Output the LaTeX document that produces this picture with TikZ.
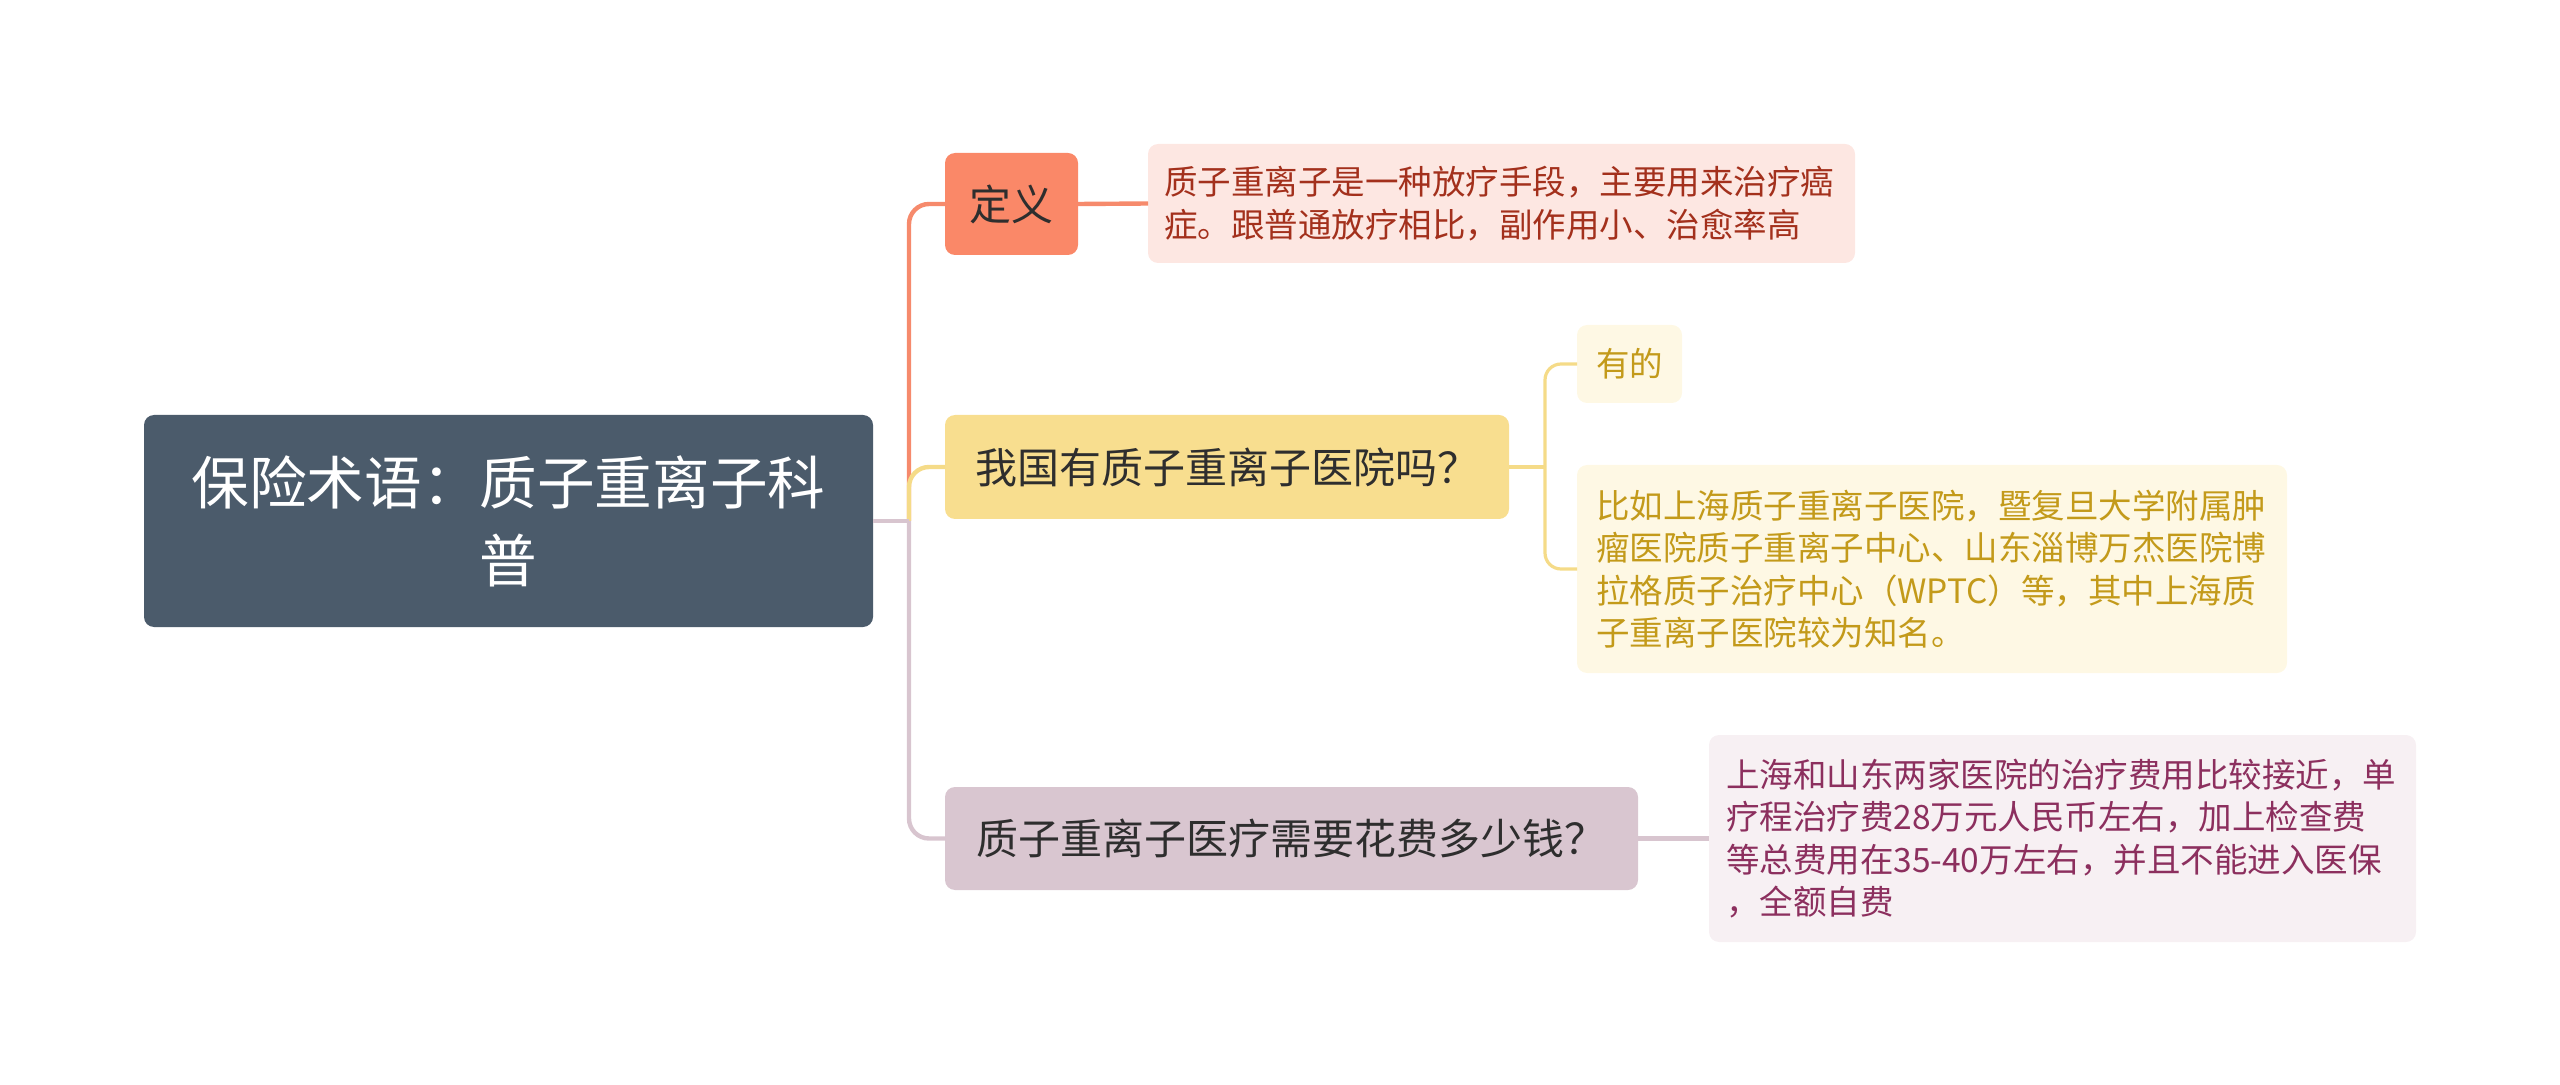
\documentclass[tikz,border=0pt]{standalone}
\usepackage{fontspec}
\setmainfont{Noto Sans CJK SC}
\definecolor{rootfill}{HTML}{4B5B6B}
\definecolor{orfill}{HTML}{FA8868}
\definecolor{orline}{HTML}{F68A6C}
\definecolor{orleaf}{HTML}{FDE7E2}
\definecolor{ortext}{HTML}{A3301C}
\definecolor{yefill}{HTML}{F8DE8F}
\definecolor{yeline}{HTML}{F5DB88}
\definecolor{yeleaf}{HTML}{FEF8E4}
\definecolor{yetext}{HTML}{C39A1A}
\definecolor{mafill}{HTML}{D9C6D0}
\definecolor{maline}{HTML}{D8C5CF}
\definecolor{maleaf}{HTML}{F7F0F3}
\definecolor{matext}{HTML}{8C2F5E}
\definecolor{maintext}{HTML}{2E2E2E}
\begin{document}
\begin{tikzpicture}[x=0.5pt,y=-0.5pt,
  box/.style={rounded corners=5pt, inner ysep=0pt, anchor=center, outer sep=0pt},
  mainbox/.style={box, font=\fontsize{21}{26}\selectfont, text=maintext, align=center},
  leafbox/.style={box, font=\fontsize{16.75}{21.25}\selectfont, align=left},
  conn/.style={line width=2.2pt, rounded corners=10pt},
  thin/.style={line width=1.6pt, rounded corners=8pt}]
\useasboundingbox (0,0) rectangle (2560,1085);
% root
\node[box, fill=rootfill, text=white, font=\fontsize{28.8}{39}\selectfont, align=center,
  minimum width=364.5pt, minimum height=106pt] (root) at (508.5,521)
  {保险术语：质子重离子科\\普};
% first level
\node[mainbox, fill=orfill, minimum width=66.5pt, minimum height=51pt] (def) at (1011.5,204) {定义};
\node[mainbox, fill=yefill, minimum width=282pt, minimum height=52pt] (q1) at (1227,467) {我国有质子重离子医院吗？};
\node[mainbox, fill=mafill, minimum width=346.5pt, minimum height=51.5pt] (q2) at (1291.5,838.5) {质子重离子医疗需要花费多少钱？};
% leaves
\node[leafbox, fill=orleaf, text=ortext, inner xsep=8pt, text width=337.5pt, minimum height=59.5pt] (defleaf) at (1501.5,203.5)
  {质子重离子是一种放疗手段，主要用来治疗癌\\症。跟普通放疗相比，副作用小、治愈率高};
\node[leafbox, fill=yeleaf, text=yetext, align=center, inner xsep=0pt, minimum width=52.5pt, minimum height=39pt] (yes) at (1629.5,364) {有的};
\node[leafbox, fill=yeleaf, text=yetext, inner xsep=9.5pt, text width=336pt, minimum height=104pt] (ex) at (1932,569)
  {比如上海质子重离子医院，暨复旦大学附属肿\\瘤医院质子重离子中心、山东淄博万杰医院博\\拉格质子治疗中心（WPTC）等，其中上海质\\子重离子医院较为知名。};
\node[leafbox, fill=maleaf, text=matext, inner xsep=8.5pt, text width=336.5pt, minimum height=103.5pt] (cost) at (2062.5,838.5)
  {上海和山东两家医院的治疗费用比较接近，单\\疗程治疗费28万元人民币左右，加上检查费\\等总费用在35-40万左右，并且不能进入医保\\，全额自费};
% connectors
\coordinate (j) at (909,521);
\coordinate (k) at (1545,467);
\draw[conn, draw=orline] (j) |- (def.west);
\draw[conn, draw=yeline] (j) |- (q1.west);
\draw[conn, draw=maline] (j) |- (q2.west);
\draw[conn, draw=maline] (root.east) -- (j);
\draw[conn, draw=orline] (def.east) -- (defleaf.west);
\draw[thin, draw=yeline] (q1.east) -- (k);
\draw[thin, draw=yeline] (k) |- (yes.west);
\draw[thin, draw=yeline] (k) |- (ex.west);
\draw[conn, draw=maline] (q2.east) -- (cost.west);
\end{tikzpicture}
\end{document}
